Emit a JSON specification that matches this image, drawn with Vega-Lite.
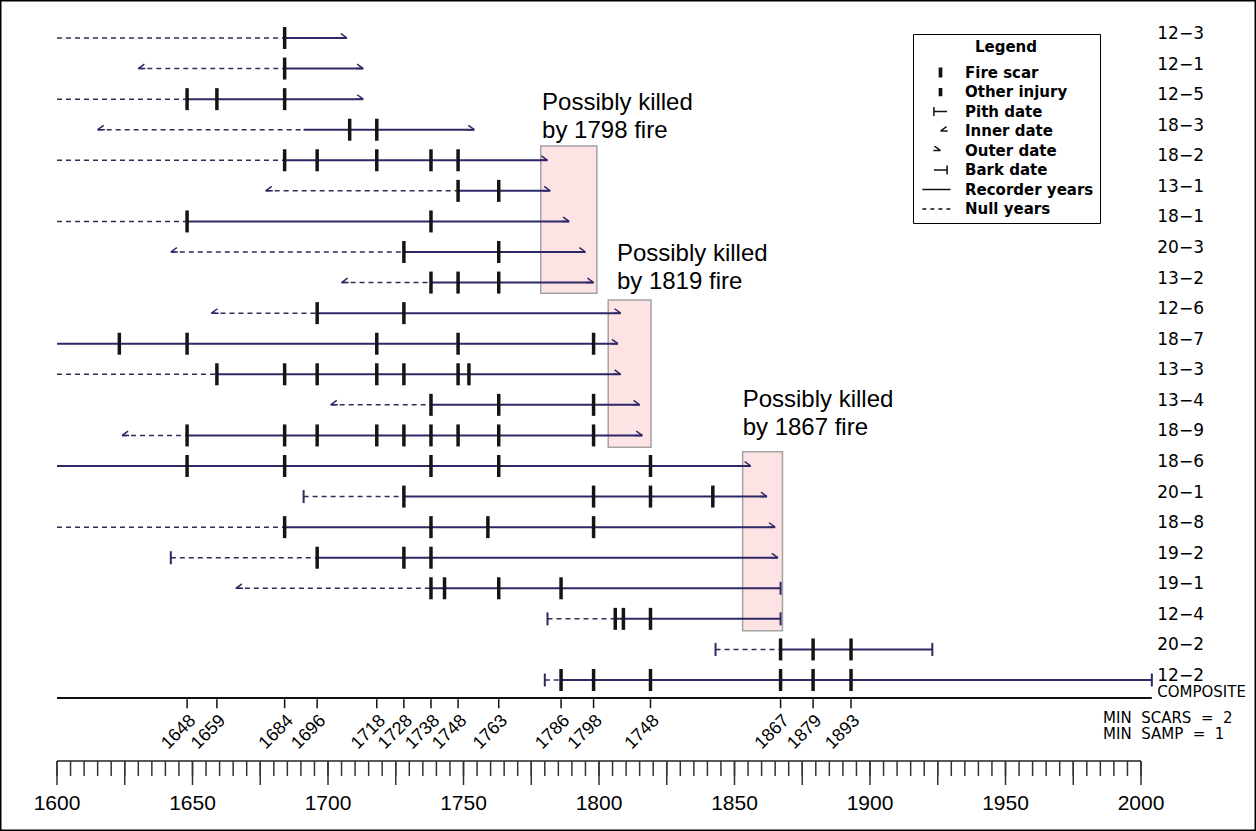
{
  "$schema": "https://vega.github.io/schema/vega-lite/v6.json",
  "width": 1256,
  "height": 831,
  "autosize": {"type": "none"},
  "padding": 0,
  "background": "#ffffff",
  "config": {"view": {"stroke": "#000000", "strokeWidth": 3}},
  "datasets": {
    "samples": [
      {"row": 1, "sample": "12−3"}, {"row": 2, "sample": "12−1"}, {"row": 3, "sample": "12−5"},
      {"row": 4, "sample": "18−3"}, {"row": 5, "sample": "18−2"}, {"row": 6, "sample": "13−1"},
      {"row": 7, "sample": "18−1"}, {"row": 8, "sample": "20−3"}, {"row": 9, "sample": "13−2"},
      {"row": 10, "sample": "12−6"}, {"row": 11, "sample": "18−7"}, {"row": 12, "sample": "13−3"},
      {"row": 13, "sample": "13−4"}, {"row": 14, "sample": "18−9"}, {"row": 15, "sample": "18−6"},
      {"row": 16, "sample": "20−1"}, {"row": 17, "sample": "18−8"}, {"row": 18, "sample": "19−2"},
      {"row": 19, "sample": "19−1"}, {"row": 20, "sample": "12−4"}, {"row": 21, "sample": "20−2"},
      {"row": 22, "sample": "12−2"}
    ],
    "segments": [
      {"row": 1, "kind": "null", "start": 1600, "end": 1684}, {"row": 1, "kind": "recorder", "start": 1684, "end": 1707},
      {"row": 2, "kind": "null", "start": 1630, "end": 1684}, {"row": 2, "kind": "recorder", "start": 1684, "end": 1713},
      {"row": 3, "kind": "null", "start": 1600, "end": 1648}, {"row": 3, "kind": "recorder", "start": 1648, "end": 1713},
      {"row": 4, "kind": "null", "start": 1615, "end": 1691}, {"row": 4, "kind": "recorder", "start": 1691, "end": 1754},
      {"row": 5, "kind": "null", "start": 1600, "end": 1684}, {"row": 5, "kind": "recorder", "start": 1684, "end": 1781},
      {"row": 6, "kind": "null", "start": 1677, "end": 1748}, {"row": 6, "kind": "recorder", "start": 1748, "end": 1782},
      {"row": 7, "kind": "null", "start": 1600, "end": 1648}, {"row": 7, "kind": "recorder", "start": 1648, "end": 1789},
      {"row": 8, "kind": "null", "start": 1642, "end": 1728}, {"row": 8, "kind": "recorder", "start": 1728, "end": 1795},
      {"row": 9, "kind": "null", "start": 1705, "end": 1738}, {"row": 9, "kind": "recorder", "start": 1738, "end": 1798},
      {"row": 10, "kind": "null", "start": 1657, "end": 1696}, {"row": 10, "kind": "recorder", "start": 1696, "end": 1808},
      {"row": 11, "kind": "recorder", "start": 1600, "end": 1807},
      {"row": 12, "kind": "null", "start": 1600, "end": 1659}, {"row": 12, "kind": "recorder", "start": 1659, "end": 1808},
      {"row": 13, "kind": "null", "start": 1701, "end": 1738}, {"row": 13, "kind": "recorder", "start": 1738, "end": 1815},
      {"row": 14, "kind": "null", "start": 1624, "end": 1648}, {"row": 14, "kind": "recorder", "start": 1648, "end": 1816},
      {"row": 15, "kind": "recorder", "start": 1600, "end": 1856},
      {"row": 16, "kind": "null", "start": 1691, "end": 1728}, {"row": 16, "kind": "recorder", "start": 1728, "end": 1862},
      {"row": 17, "kind": "null", "start": 1600, "end": 1684}, {"row": 17, "kind": "recorder", "start": 1684, "end": 1865},
      {"row": 18, "kind": "null", "start": 1642, "end": 1696}, {"row": 18, "kind": "recorder", "start": 1696, "end": 1866},
      {"row": 19, "kind": "null", "start": 1666, "end": 1738}, {"row": 19, "kind": "recorder", "start": 1738, "end": 1867},
      {"row": 20, "kind": "null", "start": 1781, "end": 1806}, {"row": 20, "kind": "recorder", "start": 1806, "end": 1867},
      {"row": 21, "kind": "null", "start": 1843, "end": 1867}, {"row": 21, "kind": "recorder", "start": 1867, "end": 1923},
      {"row": 22, "kind": "null", "start": 1780, "end": 1786}, {"row": 22, "kind": "recorder", "start": 1786, "end": 2004}
    ],
    "events": [
      {"row": 1, "year": 1684, "kind": "Fire scar"},
      {"row": 2, "year": 1684, "kind": "Fire scar"},
      {"row": 3, "year": 1648, "kind": "Fire scar"}, {"row": 3, "year": 1659, "kind": "Fire scar"}, {"row": 3, "year": 1684, "kind": "Fire scar"},
      {"row": 4, "year": 1708, "kind": "Fire scar"}, {"row": 4, "year": 1718, "kind": "Fire scar"},
      {"row": 5, "year": 1684, "kind": "Fire scar"}, {"row": 5, "year": 1696, "kind": "Fire scar"}, {"row": 5, "year": 1718, "kind": "Fire scar"}, {"row": 5, "year": 1738, "kind": "Fire scar"}, {"row": 5, "year": 1748, "kind": "Fire scar"},
      {"row": 6, "year": 1748, "kind": "Fire scar"}, {"row": 6, "year": 1763, "kind": "Fire scar"},
      {"row": 7, "year": 1648, "kind": "Fire scar"}, {"row": 7, "year": 1738, "kind": "Fire scar"},
      {"row": 8, "year": 1728, "kind": "Fire scar"}, {"row": 8, "year": 1763, "kind": "Fire scar"},
      {"row": 9, "year": 1738, "kind": "Fire scar"}, {"row": 9, "year": 1748, "kind": "Fire scar"}, {"row": 9, "year": 1763, "kind": "Fire scar"},
      {"row": 10, "year": 1696, "kind": "Fire scar"}, {"row": 10, "year": 1728, "kind": "Fire scar"},
      {"row": 11, "year": 1623, "kind": "Fire scar"}, {"row": 11, "year": 1648, "kind": "Fire scar"}, {"row": 11, "year": 1718, "kind": "Fire scar"}, {"row": 11, "year": 1748, "kind": "Fire scar"}, {"row": 11, "year": 1798, "kind": "Fire scar"},
      {"row": 12, "year": 1659, "kind": "Fire scar"}, {"row": 12, "year": 1684, "kind": "Fire scar"}, {"row": 12, "year": 1696, "kind": "Fire scar"}, {"row": 12, "year": 1718, "kind": "Fire scar"}, {"row": 12, "year": 1728, "kind": "Fire scar"}, {"row": 12, "year": 1748, "kind": "Fire scar"}, {"row": 12, "year": 1752, "kind": "Fire scar"},
      {"row": 13, "year": 1738, "kind": "Fire scar"}, {"row": 13, "year": 1763, "kind": "Fire scar"}, {"row": 13, "year": 1798, "kind": "Fire scar"},
      {"row": 14, "year": 1648, "kind": "Fire scar"}, {"row": 14, "year": 1684, "kind": "Fire scar"}, {"row": 14, "year": 1696, "kind": "Fire scar"}, {"row": 14, "year": 1718, "kind": "Fire scar"}, {"row": 14, "year": 1728, "kind": "Fire scar"}, {"row": 14, "year": 1738, "kind": "Fire scar"}, {"row": 14, "year": 1748, "kind": "Fire scar"}, {"row": 14, "year": 1763, "kind": "Fire scar"}, {"row": 14, "year": 1798, "kind": "Fire scar"},
      {"row": 15, "year": 1648, "kind": "Fire scar"}, {"row": 15, "year": 1684, "kind": "Fire scar"}, {"row": 15, "year": 1738, "kind": "Fire scar"}, {"row": 15, "year": 1763, "kind": "Fire scar"}, {"row": 15, "year": 1819, "kind": "Fire scar"},
      {"row": 16, "year": 1728, "kind": "Fire scar"}, {"row": 16, "year": 1798, "kind": "Fire scar"}, {"row": 16, "year": 1819, "kind": "Fire scar"}, {"row": 16, "year": 1842, "kind": "Fire scar"},
      {"row": 17, "year": 1684, "kind": "Fire scar"}, {"row": 17, "year": 1738, "kind": "Fire scar"}, {"row": 17, "year": 1759, "kind": "Fire scar"}, {"row": 17, "year": 1798, "kind": "Fire scar"},
      {"row": 18, "year": 1696, "kind": "Fire scar"}, {"row": 18, "year": 1728, "kind": "Fire scar"}, {"row": 18, "year": 1738, "kind": "Fire scar"},
      {"row": 19, "year": 1738, "kind": "Fire scar"}, {"row": 19, "year": 1743, "kind": "Fire scar"}, {"row": 19, "year": 1763, "kind": "Fire scar"}, {"row": 19, "year": 1786, "kind": "Fire scar"},
      {"row": 20, "year": 1806, "kind": "Fire scar"}, {"row": 20, "year": 1809, "kind": "Fire scar"}, {"row": 20, "year": 1819, "kind": "Fire scar"},
      {"row": 21, "year": 1867, "kind": "Fire scar"}, {"row": 21, "year": 1879, "kind": "Fire scar"}, {"row": 21, "year": 1893, "kind": "Fire scar"},
      {"row": 22, "year": 1786, "kind": "Fire scar"}, {"row": 22, "year": 1798, "kind": "Fire scar"}, {"row": 22, "year": 1819, "kind": "Fire scar"}, {"row": 22, "year": 1867, "kind": "Fire scar"}, {"row": 22, "year": 1879, "kind": "Fire scar"}, {"row": 22, "year": 1893, "kind": "Fire scar"},
      {"row": 2, "year": 1630, "kind": "Inner date"}, {"row": 4, "year": 1615, "kind": "Inner date"}, {"row": 6, "year": 1677, "kind": "Inner date"},
      {"row": 8, "year": 1642, "kind": "Inner date"}, {"row": 9, "year": 1705, "kind": "Inner date"}, {"row": 10, "year": 1657, "kind": "Inner date"},
      {"row": 13, "year": 1701, "kind": "Inner date"}, {"row": 14, "year": 1624, "kind": "Inner date"}, {"row": 19, "year": 1666, "kind": "Inner date"},
      {"row": 1, "year": 1707, "kind": "Outer date"}, {"row": 2, "year": 1713, "kind": "Outer date"}, {"row": 3, "year": 1713, "kind": "Outer date"},
      {"row": 4, "year": 1754, "kind": "Outer date"}, {"row": 5, "year": 1781, "kind": "Outer date"}, {"row": 6, "year": 1782, "kind": "Outer date"},
      {"row": 7, "year": 1789, "kind": "Outer date"}, {"row": 8, "year": 1795, "kind": "Outer date"}, {"row": 9, "year": 1798, "kind": "Outer date"},
      {"row": 10, "year": 1808, "kind": "Outer date"}, {"row": 11, "year": 1807, "kind": "Outer date"}, {"row": 12, "year": 1808, "kind": "Outer date"},
      {"row": 13, "year": 1815, "kind": "Outer date"}, {"row": 14, "year": 1816, "kind": "Outer date"}, {"row": 15, "year": 1856, "kind": "Outer date"},
      {"row": 16, "year": 1862, "kind": "Outer date"}, {"row": 17, "year": 1865, "kind": "Outer date"}, {"row": 18, "year": 1866, "kind": "Outer date"},
      {"row": 16, "year": 1691, "kind": "Pith date"}, {"row": 18, "year": 1642, "kind": "Pith date"}, {"row": 20, "year": 1781, "kind": "Pith date"},
      {"row": 21, "year": 1843, "kind": "Pith date"}, {"row": 22, "year": 1780, "kind": "Pith date"},
      {"row": 19, "year": 1867, "kind": "Bark date"}, {"row": 20, "year": 1867, "kind": "Bark date"}, {"row": 21, "year": 1923, "kind": "Bark date"},
      {"row": 22, "year": 2004, "kind": "Bark date"}
    ],
    "composite": [
      {"year": 1648, "label": "1648"}, {"year": 1659, "label": "1659"}, {"year": 1684, "label": "1684"},
      {"year": 1696, "label": "1696"}, {"year": 1718, "label": "1718"}, {"year": 1728, "label": "1728"},
      {"year": 1738, "label": "1738"}, {"year": 1748, "label": "1748"}, {"year": 1763, "label": "1763"},
      {"year": 1786, "label": "1786"}, {"year": 1798, "label": "1798"}, {"year": 1819, "label": "1748"},
      {"year": 1867, "label": "1867"}, {"year": 1879, "label": "1879"}, {"year": 1893, "label": "1893"}
    ],
    "ruler": [
      {"year": 1600}, {"year": 1605}, {"year": 1610}, {"year": 1615}, {"year": 1620}, {"year": 1625}, {"year": 1630}, {"year": 1635}, {"year": 1640}, {"year": 1645},
      {"year": 1650}, {"year": 1655}, {"year": 1660}, {"year": 1665}, {"year": 1670}, {"year": 1675}, {"year": 1680}, {"year": 1685}, {"year": 1690}, {"year": 1695},
      {"year": 1700}, {"year": 1705}, {"year": 1710}, {"year": 1715}, {"year": 1720}, {"year": 1725}, {"year": 1730}, {"year": 1735}, {"year": 1740}, {"year": 1745},
      {"year": 1750}, {"year": 1755}, {"year": 1760}, {"year": 1765}, {"year": 1770}, {"year": 1775}, {"year": 1780}, {"year": 1785}, {"year": 1790}, {"year": 1795},
      {"year": 1800}, {"year": 1805}, {"year": 1810}, {"year": 1815}, {"year": 1820}, {"year": 1825}, {"year": 1830}, {"year": 1835}, {"year": 1840}, {"year": 1845},
      {"year": 1850}, {"year": 1855}, {"year": 1860}, {"year": 1865}, {"year": 1870}, {"year": 1875}, {"year": 1880}, {"year": 1885}, {"year": 1890}, {"year": 1895},
      {"year": 1900}, {"year": 1905}, {"year": 1910}, {"year": 1915}, {"year": 1920}, {"year": 1925}, {"year": 1930}, {"year": 1935}, {"year": 1940}, {"year": 1945},
      {"year": 1950}, {"year": 1955}, {"year": 1960}, {"year": 1965}, {"year": 1970}, {"year": 1975}, {"year": 1980}, {"year": 1985}, {"year": 1990}, {"year": 1995},
      {"year": 2000}
    ],
    "boxes": [
      {"x1": 1778.5, "x2": 1799.2, "r1": 4.533, "r2": 9.351},
      {"x1": 1803.4, "x2": 1819.2, "r1": 9.57, "r2": 14.389},
      {"x1": 1853.0, "x2": 1867.7, "r1": 14.534, "r2": 20.388}
    ],
    "notes": [
      {"text": "Possibly killed\nby 1798 fire", "year": 1779.0, "row": 3.355},
      {"text": "Possibly killed\nby 1819 fire", "year": 1806.6, "row": 8.294},
      {"text": "Possibly killed\nby 1867 fire", "year": 1853.0, "row": 13.06}
    ]
  },
  "layer": [
    {
      "data": {"name": "boxes"},
      "mark": {"type": "rect", "fill": "#fde3e3", "stroke": "#a3a3a3", "strokeWidth": 1.5, "opacity": 1},
      "encoding": {
        "x": {"field": "x1", "type": "quantitative", "scale": {"domain": [1578.967, 2042.435], "nice": false, "zero": false}, "axis": null},
        "x2": {"field": "x2"},
        "y": {"field": "r1", "type": "quantitative", "scale": {"domain": [-0.243, 26.939], "reverse": true, "nice": false, "zero": false}, "axis": null},
        "y2": {"field": "r2"}
      }
    },
    {
      "data": {"name": "segments"},
      "transform": [{"filter": "datum.kind === 'null'"}],
      "mark": {"type": "rule", "color": "#2f2f55", "strokeWidth": 1.5, "strokeDash": [5, 4]},
      "encoding": {
        "x": {"field": "start", "type": "quantitative", "scale": {"domain": [1578.967, 2042.435], "nice": false, "zero": false}, "axis": null},
        "x2": {"field": "end"},
        "y": {"field": "row", "type": "quantitative", "scale": {"domain": [-0.243, 26.939], "reverse": true, "nice": false, "zero": false}, "axis": null}
      }
    },
    {
      "data": {"name": "segments"},
      "transform": [{"filter": "datum.kind === 'recorder'"}],
      "mark": {"type": "rule", "color": "#2c2966", "strokeWidth": 2},
      "encoding": {
        "x": {"field": "start", "type": "quantitative", "scale": {"domain": [1578.967, 2042.435], "nice": false, "zero": false}, "axis": null},
        "x2": {"field": "end"},
        "y": {"field": "row", "type": "quantitative", "scale": {"domain": [-0.243, 26.939], "reverse": true, "nice": false, "zero": false}, "axis": null}
      }
    },
    {
      "data": {"values": [{"start": 1600, "end": 2004}]},
      "mark": {"type": "rule", "color": "#111111", "strokeWidth": 2},
      "encoding": {
        "x": {"field": "start", "type": "quantitative", "scale": {"domain": [1578.967, 2042.435], "nice": false, "zero": false}, "axis": null},
        "x2": {"field": "end"},
        "y": {"datum": 22.589, "type": "quantitative", "scale": {"domain": [-0.243, 26.939], "reverse": true, "nice": false, "zero": false}, "axis": null}
      }
    },
    {
      "data": {"values": [{"start": 1600, "end": 2000}]},
      "mark": {"type": "rule", "color": "#222222", "strokeWidth": 1.5},
      "encoding": {
        "x": {"field": "start", "type": "quantitative", "scale": {"domain": [1578.967, 2042.435], "nice": false, "zero": false}, "axis": null},
        "x2": {"field": "end"},
        "y": {"datum": 24.65, "type": "quantitative", "scale": {"domain": [-0.243, 26.939], "reverse": true, "nice": false, "zero": false}, "axis": null}
      }
    },
    {
      "data": {"name": "ruler"},
      "mark": {"type": "rule", "color": "#333333", "strokeWidth": 1.5},
      "encoding": {
        "x": {"field": "year", "type": "quantitative", "scale": {"domain": [1578.967, 2042.435], "nice": false, "zero": false}, "axis": null},
        "y": {"datum": 24.65, "type": "quantitative", "scale": {"domain": [-0.243, 26.939], "reverse": true, "nice": false, "zero": false}, "axis": null},
        "y2": {"datum": 25.141}
      }
    },
    {
      "data": {"name": "ruler"},
      "transform": [{"filter": "datum.year % 25 === 0"}],
      "mark": {"type": "rule", "color": "#333333", "strokeWidth": 1.5},
      "encoding": {
        "x": {"field": "year", "type": "quantitative", "scale": {"domain": [1578.967, 2042.435], "nice": false, "zero": false}, "axis": null},
        "y": {"datum": 24.65, "type": "quantitative", "scale": {"domain": [-0.243, 26.939], "reverse": true, "nice": false, "zero": false}, "axis": null},
        "y2": {"datum": 25.435}
      }
    },
    {
      "data": {"name": "ruler"},
      "transform": [{"filter": "datum.year % 50 === 0"}],
      "mark": {"type": "text", "align": "center", "baseline": "middle", "font": "Liberation Sans", "fontSize": 21, "color": "#000000"},
      "encoding": {
        "x": {"field": "year", "type": "quantitative", "scale": {"domain": [1578.967, 2042.435], "nice": false, "zero": false}, "axis": null},
        "y": {"datum": 26.06, "type": "quantitative", "scale": {"domain": [-0.243, 26.939], "reverse": true, "nice": false, "zero": false}, "axis": null},
        "text": {"field": "year", "type": "quantitative", "format": "d"}
      }
    },
    {
      "data": {"name": "events"},
      "transform": [{"filter": "datum.kind === 'Fire scar'"}],
      "mark": {"type": "tick", "orient": "vertical", "size": 22, "thickness": 3.5, "color": "#141414", "opacity": 1},
      "encoding": {
        "x": {"field": "year", "type": "quantitative", "scale": {"domain": [1578.967, 2042.435], "nice": false, "zero": false}, "axis": null},
        "y": {"field": "row", "type": "quantitative", "scale": {"domain": [-0.243, 26.939], "reverse": true, "nice": false, "zero": false}, "axis": null}
      }
    },
    {
      "data": {"name": "events"},
      "transform": [{"filter": "datum.kind === 'Pith date' || datum.kind === 'Bark date'"}],
      "mark": {"type": "tick", "orient": "vertical", "size": 13, "thickness": 2, "color": "#2c2966", "opacity": 1},
      "encoding": {
        "x": {"field": "year", "type": "quantitative", "scale": {"domain": [1578.967, 2042.435], "nice": false, "zero": false}, "axis": null},
        "y": {"field": "row", "type": "quantitative", "scale": {"domain": [-0.243, 26.939], "reverse": true, "nice": false, "zero": false}, "axis": null}
      }
    },
    {
      "data": {"name": "events"},
      "transform": [{"filter": "datum.kind === 'Inner date' || datum.kind === 'Outer date'"}],
      "mark": {"type": "point", "filled": false, "stroke": "#2c2966", "strokeWidth": 1.5, "size": 121, "opacity": 1},
      "encoding": {
        "x": {"field": "year", "type": "quantitative", "scale": {"domain": [1578.967, 2042.435], "nice": false, "zero": false}, "axis": null},
        "y": {"field": "row", "type": "quantitative", "scale": {"domain": [-0.243, 26.939], "reverse": true, "nice": false, "zero": false}, "axis": null},
        "shape": {"field": "kind", "type": "nominal",
          "scale": {
            "domain": ["Fire scar", "Other injury", "Pith date", "Inner date", "Outer date", "Bark date", "Recorder years", "Null years"],
            "range": [
              "M-0.2,-0.9V0.9M0,-0.9V0.9M0.2,-0.9V0.9",
              "M-0.2,-0.75V0.75M0,-0.75V0.75M0.2,-0.75V0.75",
              "M-1.2,-0.8V0.8M-1.2,0H1.2",
              "M0,0H1.3M0,0L1.1,-0.8",
              "M0,0H-1.3M0,0L-1.1,-0.8",
              "M1.2,-0.8V0.8M-1.2,0H1.2",
              "M-3.3,0H1.8",
              "M-3.3,0H-2.57M-1.84,0H-1.11M-0.38,0H0.35M1.08,0H1.8"
            ]
          },
          "legend": {
            "orient": "none", "legendX": 913, "legendY": 34, "title": "Legend", "titleAnchor": "middle",
            "titleFont": "DejaVu Sans", "titleFontWeight": "bold", "titleFontSize": 15, "titleColor": "#000000", "titlePadding": 10,
            "labelFont": "DejaVu Sans", "labelFontWeight": "bold", "labelFontSize": 15, "labelColor": "#000000", "labelOffset": 17, "labelLimit": 300,
            "symbolOffset": 14, "symbolSize": 121, "symbolStrokeWidth": 1.5, "symbolStrokeColor": "#111111", "symbolFillColor": "transparent",
            "rowPadding": 3.5, "padding": 6, "strokeColor": "#000000", "fillColor": "#ffffff"
          }
        }
      }
    },
    {
      "data": {"name": "composite"},
      "mark": {"type": "tick", "orient": "vertical", "size": 9, "thickness": 1.5, "color": "#111111", "opacity": 1},
      "encoding": {
        "x": {"field": "year", "type": "quantitative", "scale": {"domain": [1578.967, 2042.435], "nice": false, "zero": false}, "axis": null},
        "y": {"datum": 22.775, "type": "quantitative", "scale": {"domain": [-0.243, 26.939], "reverse": true, "nice": false, "zero": false}, "axis": null}
      }
    },
    {
      "data": {"name": "composite"},
      "mark": {"type": "text", "angle": -45, "align": "right", "baseline": "middle", "font": "Liberation Sans", "fontSize": 18, "color": "#000000", "dx": 4.24, "dy": 4.24},
      "encoding": {
        "x": {"field": "year", "type": "quantitative", "scale": {"domain": [1578.967, 2042.435], "nice": false, "zero": false}, "axis": null},
        "y": {"datum": 23.244, "type": "quantitative", "scale": {"domain": [-0.243, 26.939], "reverse": true, "nice": false, "zero": false}, "axis": null},
        "text": {"field": "label"}
      }
    },
    {
      "data": {"name": "samples"},
      "mark": {"type": "text", "align": "left", "baseline": "middle", "font": "DejaVu Sans", "fontSize": 17, "color": "#000000", "dy": -4},
      "encoding": {
        "x": {"datum": 2006, "type": "quantitative", "scale": {"domain": [1578.967, 2042.435], "nice": false, "zero": false}, "axis": null},
        "y": {"field": "row", "type": "quantitative", "scale": {"domain": [-0.243, 26.939], "reverse": true, "nice": false, "zero": false}, "axis": null},
        "text": {"field": "sample"}
      }
    },
    {
      "data": {"values": [{"text": "COMPOSITE"}]},
      "mark": {"type": "text", "align": "left", "baseline": "middle", "font": "DejaVu Sans", "fontSize": 15, "color": "#000000"},
      "encoding": {
        "x": {"datum": 2006, "type": "quantitative", "scale": {"domain": [1578.967, 2042.435], "nice": false, "zero": false}, "axis": null},
        "y": {"datum": 22.393, "type": "quantitative", "scale": {"domain": [-0.243, 26.939], "reverse": true, "nice": false, "zero": false}, "axis": null},
        "text": {"field": "text"}
      }
    },
    {
      "data": {"name": "notes"},
      "mark": {"type": "text", "align": "left", "baseline": "alphabetic", "font": "Liberation Sans", "fontSize": 24, "lineBreak": "\n", "lineHeight": 28, "color": "#000000"},
      "encoding": {
        "x": {"field": "year", "type": "quantitative", "scale": {"domain": [1578.967, 2042.435], "nice": false, "zero": false}, "axis": null},
        "y": {"field": "row", "type": "quantitative", "scale": {"domain": [-0.243, 26.939], "reverse": true, "nice": false, "zero": false}, "axis": null},
        "text": {"field": "text"}
      }
    },
    {
      "data": {"values": [{"text": "MIN\u00a0\u00a0SCARS\u00a0\u00a0=\u00a0\u00a02\nMIN\u00a0\u00a0SAMP\u00a0\u00a0=\u00a0\u00a01"}]},
      "mark": {"type": "text", "align": "left", "baseline": "alphabetic", "font": "DejaVu Sans", "fontSize": 15, "lineBreak": "\n", "lineHeight": 16, "color": "#000000"},
      "encoding": {
        "x": {"datum": 1986, "type": "quantitative", "scale": {"domain": [1578.967, 2042.435], "nice": false, "zero": false}, "axis": null},
        "y": {"datum": 23.407, "type": "quantitative", "scale": {"domain": [-0.243, 26.939], "reverse": true, "nice": false, "zero": false}, "axis": null},
        "text": {"field": "text"}
      }
    }
  ]
}
